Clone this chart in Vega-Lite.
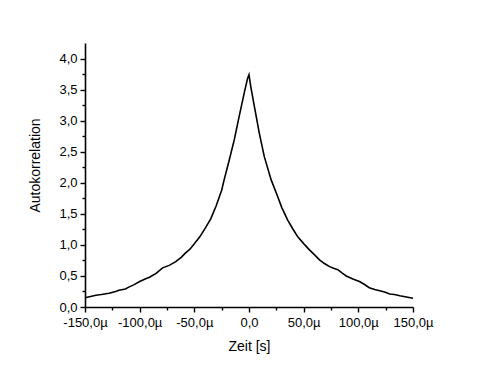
{
  "$schema": "https://vega.github.io/schema/vega-lite/v6.json",
  "width": 328,
  "height": 264,
  "autosize": "none",
  "padding": {"left": 85, "top": 43, "right": 67, "bottom": 63},
  "background": "white",
  "config": {"view": {"stroke": null}, "font": "Liberation Sans"},
  "data": {"values": [
    {"t": -150, "v": 0.15}, {"t": -145, "v": 0.17}, {"t": -140, "v": 0.19}, {"t": -135, "v": 0.2},
    {"t": -128, "v": 0.22}, {"t": -122, "v": 0.25}, {"t": -119, "v": 0.27}, {"t": -113, "v": 0.29},
    {"t": -110, "v": 0.32}, {"t": -105, "v": 0.36}, {"t": -100, "v": 0.41}, {"t": -95, "v": 0.45},
    {"t": -91, "v": 0.48}, {"t": -85, "v": 0.54}, {"t": -79, "v": 0.63}, {"t": -73, "v": 0.67},
    {"t": -67, "v": 0.73}, {"t": -62, "v": 0.8}, {"t": -58, "v": 0.87}, {"t": -54, "v": 0.93},
    {"t": -50, "v": 1.02}, {"t": -45, "v": 1.13}, {"t": -40, "v": 1.27}, {"t": -35, "v": 1.42},
    {"t": -30, "v": 1.63}, {"t": -25, "v": 1.88}, {"t": -22.7, "v": 2.05}, {"t": -18, "v": 2.37},
    {"t": -13.5, "v": 2.69}, {"t": -9, "v": 3.07}, {"t": -4.3, "v": 3.45}, {"t": -1.3, "v": 3.68},
    {"t": 0, "v": 3.74}, {"t": 1.5, "v": 3.56}, {"t": 4.9, "v": 3.23}, {"t": 9.4, "v": 2.8},
    {"t": 14, "v": 2.42}, {"t": 20.2, "v": 2.05}, {"t": 26.2, "v": 1.78}, {"t": 30, "v": 1.6},
    {"t": 35.4, "v": 1.4}, {"t": 40, "v": 1.26}, {"t": 44.6, "v": 1.13}, {"t": 50, "v": 1.02},
    {"t": 55.3, "v": 0.92}, {"t": 60, "v": 0.84}, {"t": 64.5, "v": 0.76}, {"t": 69, "v": 0.7},
    {"t": 73.7, "v": 0.65}, {"t": 78, "v": 0.62}, {"t": 81.3, "v": 0.6}, {"t": 85, "v": 0.55},
    {"t": 89, "v": 0.5}, {"t": 95, "v": 0.45}, {"t": 101, "v": 0.41}, {"t": 105, "v": 0.37},
    {"t": 110, "v": 0.31}, {"t": 115, "v": 0.28}, {"t": 119.5, "v": 0.26}, {"t": 124, "v": 0.24},
    {"t": 128.7, "v": 0.21}, {"t": 133, "v": 0.2}, {"t": 138, "v": 0.18}, {"t": 144, "v": 0.16},
    {"t": 150, "v": 0.14}
  ]},
  "mark": {"type": "line", "color": "black", "strokeWidth": 1.6},
  "encoding": {
    "x": {
      "field": "t", "type": "quantitative",
      "scale": {"domain": [-150, 150], "nice": false, "zero": false},
      "axis": {
        "title": "Zeit [s]",
        "titleFont": "Liberation Sans", "titleFontSize": 14, "titleFontWeight": "normal", "titleColor": "black",
        "titlePadding": 10,
        "values": [-150, -125, -100, -75, -50, -25, 0, 25, 50, 75, 100, 125, 150],
        "labelExpr": "datum.value % 50 != 0 ? '' : (datum.value == 0 ? '0,0' : (datum.value < 0 ? '-' : '') + abs(datum.value) + ',0µ')",
        "labelFont": "Liberation Sans", "labelFontSize": 13, "labelColor": "black", "labelPadding": 4,
        "labelOverlap": false, "labelFlush": false,
        "grid": false,
        "domainColor": "black", "domainWidth": 1.6,
        "tickColor": "black", "tickWidth": 1.4,
        "tickSize": {"condition": {"test": "datum.value % 50 != 0", "value": 3}, "value": 5}
      }
    },
    "y": {
      "field": "v", "type": "quantitative",
      "scale": {"domain": [0, 4.25], "nice": false, "zero": false},
      "axis": {
        "title": "Autokorrelation",
        "titleFont": "Liberation Sans", "titleFontSize": 14, "titleFontWeight": "normal", "titleColor": "black",
        "titleX": -50, "titleY": 122, "titleBaseline": "middle", "titleAlign": "center", "titleAngle": -90,
        "values": [0, 0.25, 0.5, 0.75, 1, 1.25, 1.5, 1.75, 2, 2.25, 2.5, 2.75, 3, 3.25, 3.5, 3.75, 4],
        "labelExpr": "abs(datum.value*2 - round(datum.value*2)) > 0.01 ? '' : replace(format(datum.value, '.1f'), '.', ',')",
        "labelFont": "Liberation Sans", "labelFontSize": 13, "labelColor": "black", "labelPadding": 3,
        "labelOverlap": false, "labelFlush": false,
        "grid": false,
        "domainColor": "black", "domainWidth": 1.6,
        "tickColor": "black", "tickWidth": 1.4,
        "tickSize": {"condition": {"test": "abs(datum.value*2 - round(datum.value*2)) > 0.01", "value": 3}, "value": 5}
      }
    }
  }
}
